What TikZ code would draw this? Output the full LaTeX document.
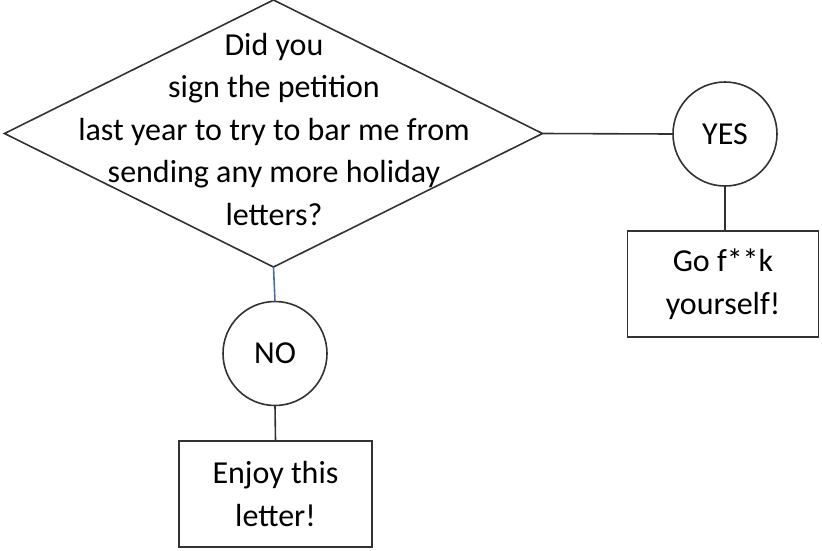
\documentclass[tikz,border=0pt]{standalone}
\usepackage{fontspec}
\setmainfont{Carlito}
\usetikzlibrary{shapes.geometric}
\definecolor{edgegray}{RGB}{50,50,50}
\definecolor{linkblue}{RGB}{65,113,156}
\begin{document}
\begin{tikzpicture}[x=1pt,y=-1pt,
  every node/.style={font=\fontsize{32}{42.5}\selectfont, text=black},
  outline/.style={draw=edgegray, line width=1.6pt, fill=white},
  decision/.style={outline, diamond, minimum width=538pt, minimum height=267pt, inner sep=0pt, outer sep=0pt},
  answer/.style={outline, circle, minimum size=104pt, inner sep=0pt, outer sep=0pt},
  result/.style={outline, rectangle, minimum width=191pt, minimum height=106pt, inner sep=0pt, outer sep=0pt, align=center},
  link/.style={draw=edgegray, line width=1.6pt},
  bluelink/.style={draw=linkblue, line width=1.6pt}
]
\useasboundingbox (0,0) rectangle (822,550);
\node[decision] (dia) at (273.5,133.5) {};
\node[align=center] (q) at (274,129) {Did you\\sign the petition\\last year to try to bar me from\\sending any more holiday\\letters?};
\node[answer] (yes) at (725,134) {YES};
\node[result] (gobox) at (723,284) {Go f**k\\yourself!};
\node[answer] (no) at (275,353.5) {NO};
\node[result, minimum width=193pt] (enjoy) at (275.5,494) {Enjoy this\\letter!};
\draw[link] (dia.east) -- (yes.west);
\draw[link] (yes.south) -- (yes.south |- gobox.north);
\draw[bluelink] (dia.south) -- (no.north);
\draw[link] (no.south) -- (enjoy.north);
\end{tikzpicture}
\end{document}
